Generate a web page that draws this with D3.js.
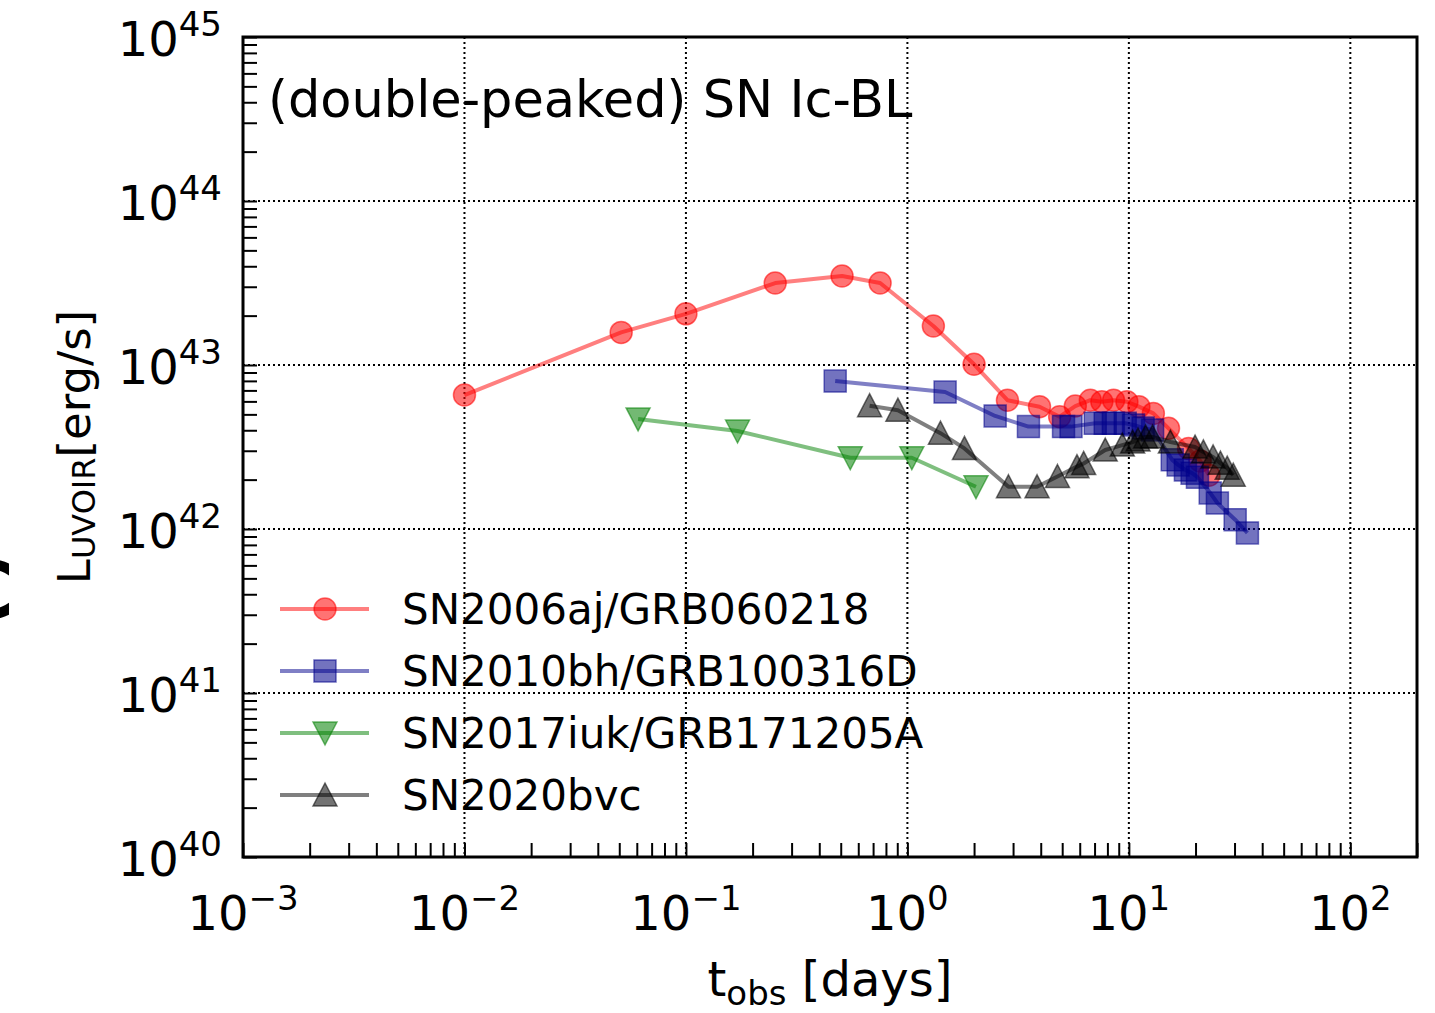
<!DOCTYPE html>
<meta charset="utf-8">
<script src="https://d3js.org/d3.v7.min.js"></script>
<style>
  body { margin: 0; background: #fff; }
  text { font-family: "DejaVu Sans", sans-serif; fill: #000; }
</style>
<div id="chart"></div>
<script>
// luminosity curves (t in days, L in erg/s)
const sn06ajT = [0.01, 0.051, 0.1, 0.253, 0.507, 0.753, 1.31, 2.0, 2.83, 3.95, 4.87, 5.73, 6.7, 7.55, 8.53, 9.8, 11.1, 12.9, 15.1, 18.6, 21.0, 23.0];
const sn06ajL = [6.56e42, 1.58e43, 2.05e43, 3.16e43, 3.49e43, 3.16e43, 1.73e43, 1.01e43, 6.1e42, 5.57e42, 4.84e42, 5.62e42, 6.1e42, 5.97e42, 6.1e42, 5.97e42, 5.57e42, 5.07e42, 4.11e42, 3.1e42, 2.6e42, 2.13e42];

const sn10bhT = [0.472, 1.48, 2.49, 3.52, 5.07, 5.48, 7.05, 7.82, 8.51, 9.63, 10.5, 11.6, 12.8, 15.7, 16.7, 18.0, 19.3, 20.4, 23.3, 25.1, 30.2, 34.3];
const sn10bhL = [7.98e42, 6.84e42, 4.89e42, 4.21e42, 4.21e42, 4.21e42, 4.41e42, 4.41e42, 4.41e42, 4.41e42, 4.31e42, 4.13e42, 4.02e42, 2.64e42, 2.46e42, 2.29e42, 2.19e42, 2.07e42, 1.66e42, 1.44e42, 1.14e42, 9.47e41];

const sn17iukT = [0.0608, 0.171, 0.552, 1.047, 2.04];
const sn17iukL = [4.69e42, 3.96e42, 2.72e42, 2.72e42, 1.81e42];

const sn20bvcT = [0.675, 0.906, 1.41, 1.81, 2.86, 3.85, 4.76, 5.83, 6.25, 7.82, 9.34, 10.4, 11.0, 11.9, 12.8, 15.4, 19.9, 21.7, 24.0, 25.9, 27.8, 29.6];
const sn20bvcL = [5.65e42, 5.3e42, 3.84e42, 3.1e42, 1.81e42, 1.81e42, 2.09e42, 2.4e42, 2.51e42, 3.03e42, 3.25e42, 3.39e42, 3.49e42, 3.64e42, 3.64e42, 3.39e42, 3.16e42, 2.95e42, 2.75e42, 2.52e42, 2.35e42, 2.13e42];

const seriesNames = ["SN2006aj/GRB060218", "SN2010bh/GRB100316D", "SN2017iuk/GRB171205A", "SN2020bvc"];
const xDecades = [-3, -2, -1, 0, 1, 2];
const yDecades = [40, 41, 42, 43, 44, 45];

const series = [
  { name: seriesNames[0], t: sn06ajT, L: sn06ajL, color: "#ff0000", marker: "circle" },
  { name: seriesNames[1], t: sn10bhT, L: sn10bhL, color: "#00008b", marker: "square" },
  { name: seriesNames[2], t: sn17iukT, L: sn17iukL, color: "#008000", marker: "tridown" },
  { name: seriesNames[3], t: sn20bvcT, L: sn20bvcL, color: "#000000", marker: "triup" },
];

const W = 1435, H = 1013;
const margin = { left: 243, right: 1417, top: 37, bottom: 857 };

const svg = d3.select("#chart").append("svg")
  .attr("width", W).attr("height", H);

const x = d3.scaleLog().domain([1e-3, 200]).range([margin.left, margin.right]);
const y = d3.scaleLog().domain([1e40, 1e45]).range([margin.bottom, margin.top]);

// minor tick values
const xMinor = [];
xDecades.forEach(k => { for (let m = 2; m <= 9; m++) { const v = m * Math.pow(10, k); if (v <= 200) xMinor.push(v); } });
const yMinor = [];
yDecades.slice(0, -1).forEach(k => { for (let m = 2; m <= 9; m++) yMinor.push(m * Math.pow(10, k)); });

// grid
const grid = svg.append("g");
xDecades.slice(1).forEach(k => {
  grid.append("line")
    .attr("x1", x(Math.pow(10, k))).attr("x2", x(Math.pow(10, k)))
    .attr("y1", margin.top).attr("y2", margin.bottom)
    .attr("stroke", "#000").attr("stroke-width", 2).attr("stroke-dasharray", "2,3");
});
yDecades.slice(1, -1).forEach(k => {
  grid.append("line")
    .attr("y1", y(Math.pow(10, k))).attr("y2", y(Math.pow(10, k)))
    .attr("x1", margin.left).attr("x2", margin.right)
    .attr("stroke", "#000").attr("stroke-width", 2).attr("stroke-dasharray", "2,3");
});

// axes: ticks point inward, labels drawn separately
const xAxisG = svg.append("g").attr("transform", `translate(0,${margin.bottom})`)
  .call(d3.axisBottom(x).tickValues(xMinor.concat(xDecades.map(k => Math.pow(10, k))))
    .tickSizeInner(-14).tickSizeOuter(0).tickFormat(""));
const yAxisG = svg.append("g").attr("transform", `translate(${margin.left},0)`)
  .call(d3.axisLeft(y).tickValues(yMinor.concat(yDecades.map(k => Math.pow(10, k))))
    .tickSizeInner(-14).tickSizeOuter(0).tickFormat(""));
[xAxisG, yAxisG].forEach(g => {
  g.select(".domain").remove();
  g.selectAll(".tick line").attr("stroke", "#000").attr("stroke-width", 2);
});

// tick labels 10^k
const fmtExp = k => (k < 0 ? "\u2212" + (-k) : String(k));
xDecades.forEach(k => {
  const t = svg.append("text")
    .attr("x", x(Math.pow(10, k))).attr("y", 930)
    .attr("text-anchor", "middle").style("font-size", "48px");
  t.append("tspan").text("10");
  t.append("tspan").attr("dy", -20).style("font-size", "34px").text(fmtExp(k));
});
yDecades.forEach(k => {
  const t = svg.append("text")
    .attr("x", 222).attr("y", y(Math.pow(10, k)) + 19)
    .attr("text-anchor", "end").style("font-size", "48px");
  t.append("tspan").text("10");
  t.append("tspan").attr("dy", -20).style("font-size", "34px").text(fmtExp(k));
});

// marker shapes
function markerPath(kind) {
  if (kind === "circle") return d3.symbol(d3.symbolCircle, Math.PI * 121)();
  if (kind === "square") return "M-11,-11H11V11H-11Z";
  if (kind === "triup") return "M0,-12L12,11L-12,11Z";
  return "M0,12L12,-11L-12,-11Z";
}

const line = d3.line().x(d => x(d[0])).y(d => y(d[1]));

const plot = svg.append("g");
series.forEach(s => {
  const pts = s.t.map((t, i) => [t, s.L[i]]);
  plot.append("path")
    .attr("d", line(pts))
    .attr("fill", "none")
    .attr("stroke", s.color)
    .attr("stroke-opacity", 0.5)
    .attr("stroke-width", 4)
    .attr("stroke-linejoin", "round");
  plot.selectAll(null)
    .data(pts)
    .join("path")
    .attr("transform", d => `translate(${x(d[0])},${y(d[1])})`)
    .attr("d", markerPath(s.marker))
    .attr("fill", s.color).attr("fill-opacity", 0.55)
    .attr("stroke", s.color).attr("stroke-opacity", 0.55).attr("stroke-width", 1.5);
});

// frame
svg.append("rect")
  .attr("x", margin.left).attr("y", margin.top)
  .attr("width", margin.right - margin.left).attr("height", margin.bottom - margin.top)
  .attr("fill", "none").attr("stroke", "#000").attr("stroke-width", 3);

// panel label
svg.append("text").attr("x", 268).attr("y", 117)
  .style("font-size", "51px").text("(double-peaked) SN Ic-BL");

// legend
const legend = svg.append("g");
series.forEach((s, i) => {
  const ly = 609 + i * 62;
  legend.append("line")
    .attr("x1", 280).attr("x2", 369).attr("y1", ly).attr("y2", ly)
    .attr("stroke", s.color).attr("stroke-opacity", 0.5).attr("stroke-width", 4);
  legend.append("path")
    .attr("transform", `translate(325,${ly})`)
    .attr("d", markerPath(s.marker))
    .attr("fill", s.color).attr("fill-opacity", 0.55)
    .attr("stroke", s.color).attr("stroke-opacity", 0.55).attr("stroke-width", 1.5);
  legend.append("text")
    .attr("x", 402).attr("y", ly).attr("dy", "0.36em")
    .style("font-size", "42px").text(s.name);
});

// axis titles
const xl = svg.append("text").attr("x", 830).attr("y", 996)
  .attr("text-anchor", "middle").style("font-size", "48px");
xl.append("tspan").text("t");
xl.append("tspan").attr("dy", 9).style("font-size", "34px").text("obs");
xl.append("tspan").attr("dy", -9).text(" [days]");

const yl = svg.append("text")
  .attr("transform", "translate(90,447) rotate(-90)")
  .attr("text-anchor", "middle").style("font-size", "45px");
yl.append("tspan").text("L");
yl.append("tspan").attr("dy", 5).style("font-size", "32px").text("UVOIR");
yl.append("tspan").attr("dy", -5).text("[erg/s]");

// clipped fragment of a neighbouring panel label at the far left
svg.append("text").attr("x", 14).attr("y", 618)
  .attr("text-anchor", "end")
  .style("font-size", "78px").style("font-weight", "bold").text("C");
</script>
